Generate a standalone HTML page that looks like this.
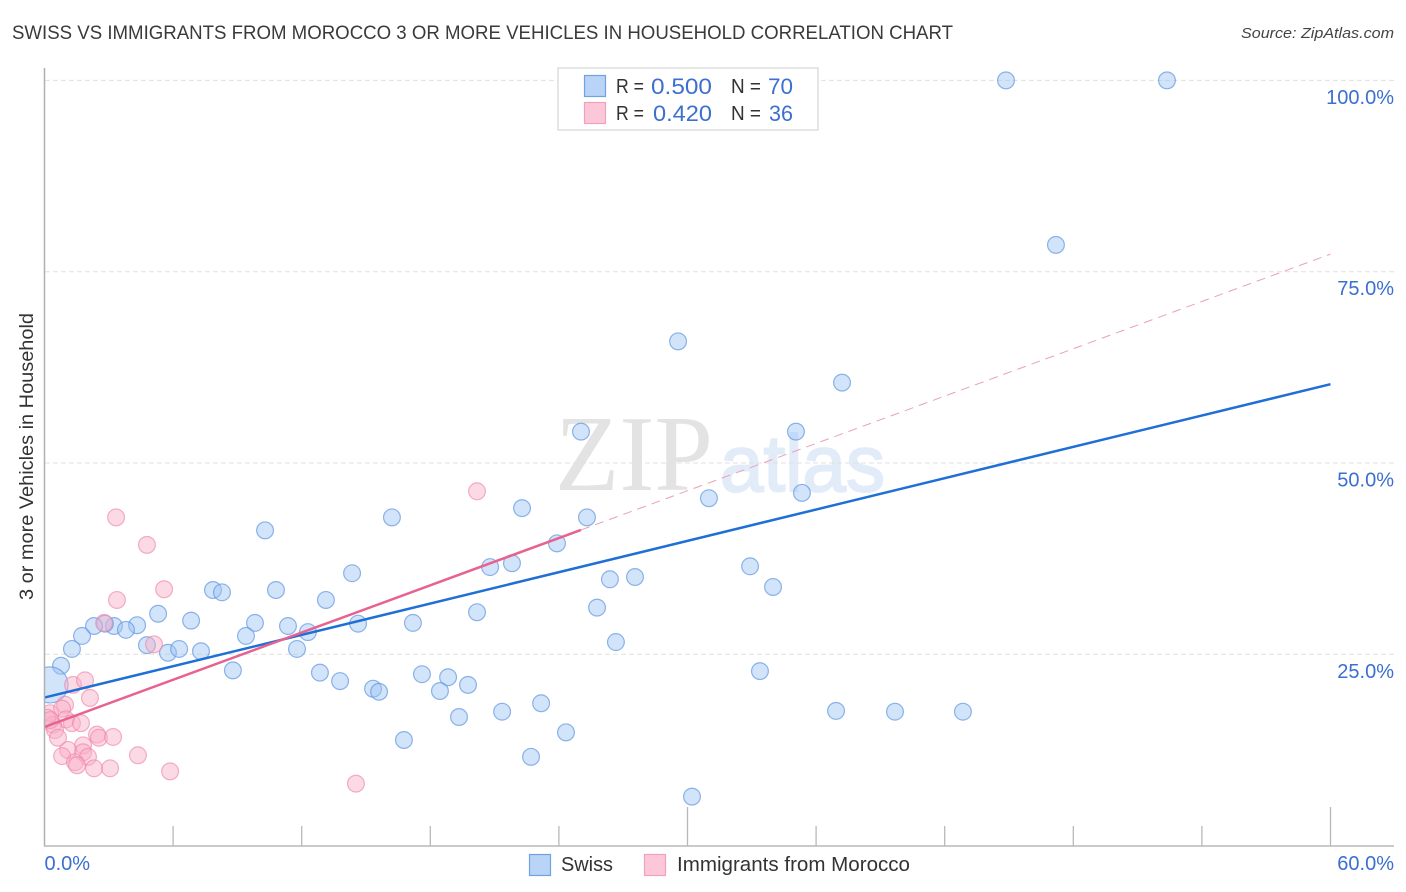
<!DOCTYPE html>
<html>
<head>
<meta charset="utf-8">
<style>
html,body{margin:0;padding:0;background:#fff;width:1406px;height:892px;overflow:hidden}
svg{display:block;font-family:"Liberation Sans",sans-serif}
</style>
</head>
<body>
<svg id="chart" xmlns="http://www.w3.org/2000/svg" width="1406" height="892" viewBox="0 0 1406 892">
  <defs><clipPath id="plot-clip"><rect x="45" y="60" width="1349" height="786"/></clipPath></defs>
  <rect x="0" y="0" width="1406" height="892" fill="#fff"/>
  <text x="12" y="39" font-size="19" fill="#3a3a3a" textLength="941" lengthAdjust="spacingAndGlyphs">SWISS VS IMMIGRANTS FROM MOROCCO 3 OR MORE VEHICLES IN HOUSEHOLD CORRELATION CHART</text>
  <text x="1394" y="38" font-size="15" font-style="italic" fill="#444" text-anchor="end" textLength="153" lengthAdjust="spacingAndGlyphs">Source: ZipAtlas.com</text>
  <text x="555" y="490" font-family="'Liberation Serif',serif" font-size="108" fill="#e3e3e3" textLength="158" lengthAdjust="spacingAndGlyphs">ZIP</text>
  <text x="720" y="491" font-family="'Liberation Sans',sans-serif" font-size="80" fill="#e2ecf9" stroke="#e2ecf9" stroke-width="2" textLength="165" lengthAdjust="spacingAndGlyphs">atlas</text>
  <g id="grid-layer"></g>
  <g id="points-layer" clip-path="url(#plot-clip)"></g>
  <g id="trend-layer"></g>
  <g id="axis-layer"></g>
  <text transform="translate(33,456.5) rotate(-90)" font-size="19.5" fill="#333" text-anchor="middle" textLength="287" lengthAdjust="spacingAndGlyphs">3 or more Vehicles in Household</text>
  <g>
    <rect x="558" y="68" width="260" height="62" fill="#fff" stroke="#dedede" stroke-width="1.5"/>
    <rect x="584.5" y="75.5" width="21" height="21" fill="#b9d4f7" stroke="#6fa2e4" stroke-width="1.2"/>
    <rect x="584.5" y="102.5" width="21" height="21" fill="#fcc7d9" stroke="#f3a0bb" stroke-width="1.2"/>
    <text x="616" y="93" font-size="20" fill="#333" textLength="28" lengthAdjust="spacingAndGlyphs">R =</text>
    <text x="651" y="94" font-size="22" fill="#3b6fd0" textLength="61" lengthAdjust="spacingAndGlyphs">0.500</text>
    <text x="731" y="93" font-size="20" fill="#333" textLength="30" lengthAdjust="spacingAndGlyphs">N =</text>
    <text x="768" y="94" font-size="22" fill="#3b6fd0" textLength="25" lengthAdjust="spacingAndGlyphs">70</text>
    <text x="616" y="120" font-size="20" fill="#333" textLength="28" lengthAdjust="spacingAndGlyphs">R =</text>
    <text x="653" y="121" font-size="22" fill="#3b6fd0" textLength="59" lengthAdjust="spacingAndGlyphs">0.420</text>
    <text x="731" y="120" font-size="20" fill="#333" textLength="30" lengthAdjust="spacingAndGlyphs">N =</text>
    <text x="769" y="121" font-size="22" fill="#3b6fd0" textLength="24" lengthAdjust="spacingAndGlyphs">36</text>
  </g>
  <g>
    <rect x="529.5" y="854.5" width="21" height="21" fill="#b9d4f7" stroke="#6fa2e4" stroke-width="1.2"/>
    <text x="561" y="871" font-size="20" fill="#333" textLength="52" lengthAdjust="spacingAndGlyphs">Swiss</text>
    <rect x="644.5" y="854.5" width="21" height="21" fill="#fcc7d9" stroke="#f3a0bb" stroke-width="1.2"/>
    <text x="677" y="871" font-size="20" fill="#333" textLength="233" lengthAdjust="spacingAndGlyphs">Immigrants from Morocco</text>
  </g>
</svg>
<script>
var swissX = [44.86,52.37,47.19,29.56,37.21,25.03,35.06,22.28,16.21,25.31,10.29,31.00,35.34,23.91,14.35,20.79,21.81,32.92,33.99,27.55,26.38,25.78,20.18,10.80,7.86,8.28,13.13,5.30,6.84,9.82,11.36,12.29,14.63,17.19,4.32,3.24,2.82,2.31,3.80,1.75,1.28,4.78,5.76,6.28,7.30,9.40,11.78,26.66,33.38,8.79,12.85,13.79,17.61,18.83,19.76,15.33,15.61,18.45,0.77,0.26,23.17,21.35,19.34,36.93,39.68,42.85,24.33,16.77,22.70,30.21];
var swissY = [100.0,100.0,78.5,65.9,60.5,54.1,54.1,44.1,42.9,42.9,41.2,45.4,46.1,39.5,35.6,36.4,36.9,36.5,33.8,35.1,34.8,31.1,30.5,33.4,33.4,33.1,32.1,30.3,29.4,29.1,28.7,27.9,29.0,29.1,28.8,28.7,29.0,28.7,28.2,27.4,25.7,26.2,25.2,25.7,25.4,27.4,25.7,26.6,22.8,22.9,22.6,21.5,22.4,22.0,21.0,20.5,20.1,20.2,23.5,21.0,18.6,17.5,16.8,17.6,17.5,17.5,14.8,13.8,11.6,6.4];
var swissWeight = [1,1,1,1,1,1,1,1,1,1,1,1,1,1,1,1,1,1,1,1,1,1,1,1,1,1,1,1,1,1,1,1,1,1,1,1,1,1,1,1,1,1,1,1,1,1,1,1,1,1,1,1,1,1,1,1,1,1,1,4.6,1,1,1,1,1,1,1,1,1,1];
var moroccoX = [3.34,4.78,5.58,3.38,2.78,5.11,1.33,1.89,2.12,0.96,0.26,0.82,1.00,1.28,1.70,0.40,0.12,0.49,0.63,2.45,2.54,3.20,4.36,5.86,1.80,1.10,0.82,1.80,2.03,1.42,1.52,2.31,3.06,20.18,14.53,0.26];
var moroccoY = [42.9,39.3,33.5,32.1,29.1,26.3,21.0,21.6,19.3,18.4,17.3,17.9,16.5,16.0,16.0,15.8,16.7,15.1,14.1,14.5,14.1,14.2,11.8,9.7,13.1,12.5,11.7,12.2,11.6,10.9,10.5,10.1,10.1,46.3,8.1,16.4];
var swissTrendX = [0,60];
var swissTrendY = [19.35,60.3];
var moroccoTrendX = [0,25.03];
var moroccoTrendY = [15.5,41.25];
var moroccoExtendX = [25.03,60];
var moroccoExtendY = [41.25,77.3];
var yTickValues = [25,50,75,100];
var yTickLabels = ["25.0%","50.0%","75.0%","100.0%"];
var xTickValues = [0,6,12,18,24,30,36,42,48,54,60];
var xEndValues = [0,60];
var xEndLabels = ["0.0%","60.0%"];

var NS = "http://www.w3.org/2000/svg";
function xScale(v){ return 44.5 + v * (1286 / 60); }
function yScale(v){ return 845.6 - v * (191.3 / 25); }
function make(tag, attrs, parent){
  var el = document.createElementNS(NS, tag);
  for (var k in attrs) el.setAttribute(k, attrs[k]);
  parent.appendChild(el);
  return el;
}
var gridLayer = document.getElementById("grid-layer");
var pointsLayer = document.getElementById("points-layer");
var trendLayer = document.getElementById("trend-layer");
var axisLayer = document.getElementById("axis-layer");

yTickValues.forEach(function(v, i){
  var line = make("line", {x1:45, x2:1394, y1:yScale(v), y2:yScale(v), stroke:"#e0e0e0", "stroke-width":1, "stroke-dasharray":"5 3"}, gridLayer);
  
  
  var label = make("text", {x:1394, y:yScale(v) + 23.5, "font-size":20, fill:"#3b6fd0", "text-anchor":"end"}, axisLayer);
  label.textContent = yTickLabels[i];
  
  
});

swissX.forEach(function(v, i){
  var c = make("circle", {cx:xScale(v), cy:yScale(swissY[i]), r:8.4 * Math.sqrt(swissWeight[i]), fill:"#9cc3f3", "fill-opacity":0.45, stroke:"#5f96e0", "stroke-opacity":0.7, "stroke-width":1.2}, pointsLayer);
  
  
});
moroccoX.forEach(function(v, i){
  var c = make("circle", {cx:xScale(v), cy:yScale(moroccoY[i]), r:8.4, fill:"#f9aec6", "fill-opacity":0.45, stroke:"#ee85a8", "stroke-opacity":0.65, "stroke-width":1.2}, pointsLayer);
  
  
});

var extLine = make("line", {x1:xScale(moroccoExtendX[0]), y1:yScale(moroccoExtendY[0]), x2:xScale(moroccoExtendX[1]), y2:yScale(moroccoExtendY[1]), stroke:"#e8a0b8", "stroke-width":1, "stroke-dasharray":"9 6"}, trendLayer);


var swissLine = make("line", {x1:xScale(swissTrendX[0]), y1:yScale(swissTrendY[0]), x2:xScale(swissTrendX[1]), y2:yScale(swissTrendY[1]), stroke:"#1f6fd6", "stroke-width":2.5}, trendLayer);


var moroccoLine = make("line", {x1:xScale(moroccoTrendX[0]), y1:yScale(moroccoTrendY[0]), x2:xScale(moroccoTrendX[1]), y2:yScale(moroccoTrendY[1]), stroke:"#e8628f", "stroke-width":2.5}, trendLayer);



var yAxis = make("line", {x1:44.5, x2:44.5, y1:68, y2:846.5, stroke:"#b0b0b0", "stroke-width":1.5}, axisLayer);


var xAxis = make("line", {x1:44, x2:1394, y1:846, y2:846, stroke:"#b8b8b8", "stroke-width":1.5}, axisLayer);


xTickValues.forEach(function(v, i){
  if (i === 0) return;
  var top = (v === 30 || v === 60) ? 807 : 826;
  var t = make("line", {x1:xScale(v), x2:xScale(v), y1:top, y2:846, stroke:"#b8b8b8", "stroke-width":1.3}, axisLayer);
  
  
});
xEndValues.forEach(function(v, i){
  var opts = {y:870, "font-size":20, fill:"#3b6fd0"};
  if (i === 0) { opts.x = xScale(v); } else { opts.x = 1394; opts["text-anchor"] = "end"; }
  var label = make("text", opts, axisLayer);
  label.textContent = xEndLabels[i];
  
  
});
</script>
</body>
</html>
